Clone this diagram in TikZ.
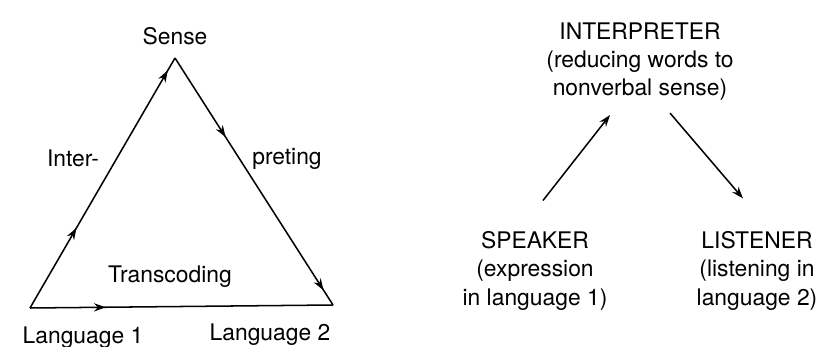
\documentclass[tikz,border=0pt]{standalone}
\usepackage{fontspec}
\setmainfont{TeX Gyre Heros}
\usetikzlibrary{arrows.meta,decorations.markings}

\tikzset{
  edge/.style={line width=1.3pt},
  onearrow/.style={postaction={decorate},
    decoration={markings,mark=at position #1 with {\arrow{Stealth[length=10pt,width=7pt]}}}},
  twoarrows/.style 2 args={postaction={decorate},
    decoration={markings,
      mark=at position #1 with {\arrow{Stealth[length=10pt,width=7pt]}},
      mark=at position #2 with {\arrow{Stealth[length=10pt,width=7pt]}}}},
  flow/.style={edge,-{Stealth[length=10pt,width=7pt]}},
  lbl/.style={anchor=base,inner sep=0pt,font=\fontsize{19.5}{24}\selectfont},
  role/.style={lbl,align=center}
}

\begin{document}
\begin{tikzpicture}[x=0.03cm,y=-0.03cm]
    \useasboundingbox (0,0) rectangle (820,347);

    \coordinate (L1) at (30,308);
    \coordinate (L2) at (333,305);
    \coordinate (S) at (175,58);
    \path[edge, draw, twoarrows={0.32}{0.95}] (L1) -- (S);
    \path[edge, draw, twoarrows={0.32}{0.94}] (S) -- (L2);
    \path[edge, draw, onearrow=0.25] (L1) -- (L2);

    \node[lbl] (sense) at (175,45) {Sense};
    \node[lbl] (inter) at (73,167) {Inter-};
    \node[lbl] (preting) at (287,165) {preting};
    \node[lbl] (trans) at (170,283) {Transcoding};
    \node[lbl] (lang1) at (83,343) {Language 1};
    \node[lbl] (lang2) at (270,340) {Language 2};

    \node[role] (intp) at (640,96) {INTERPRETER\\(reducing words to\\nonverbal sense)};
    \node[role] (spk) at (535,305) {SPEAKER\\(expression\\in language 1)};
    \node[role] (lst) at (757,305) {LISTENER\\(listening in\\language 2)};

    \path[flow, draw] ([shift={(8,-31)}]spk.north) -- ([shift={(-30,14)}]intp.south);
    \path[flow, draw] ([shift={(30,12)}]intp.south) -- ([shift={(-14,-33)}]lst.north);

    \end{tikzpicture}
\end{document}
